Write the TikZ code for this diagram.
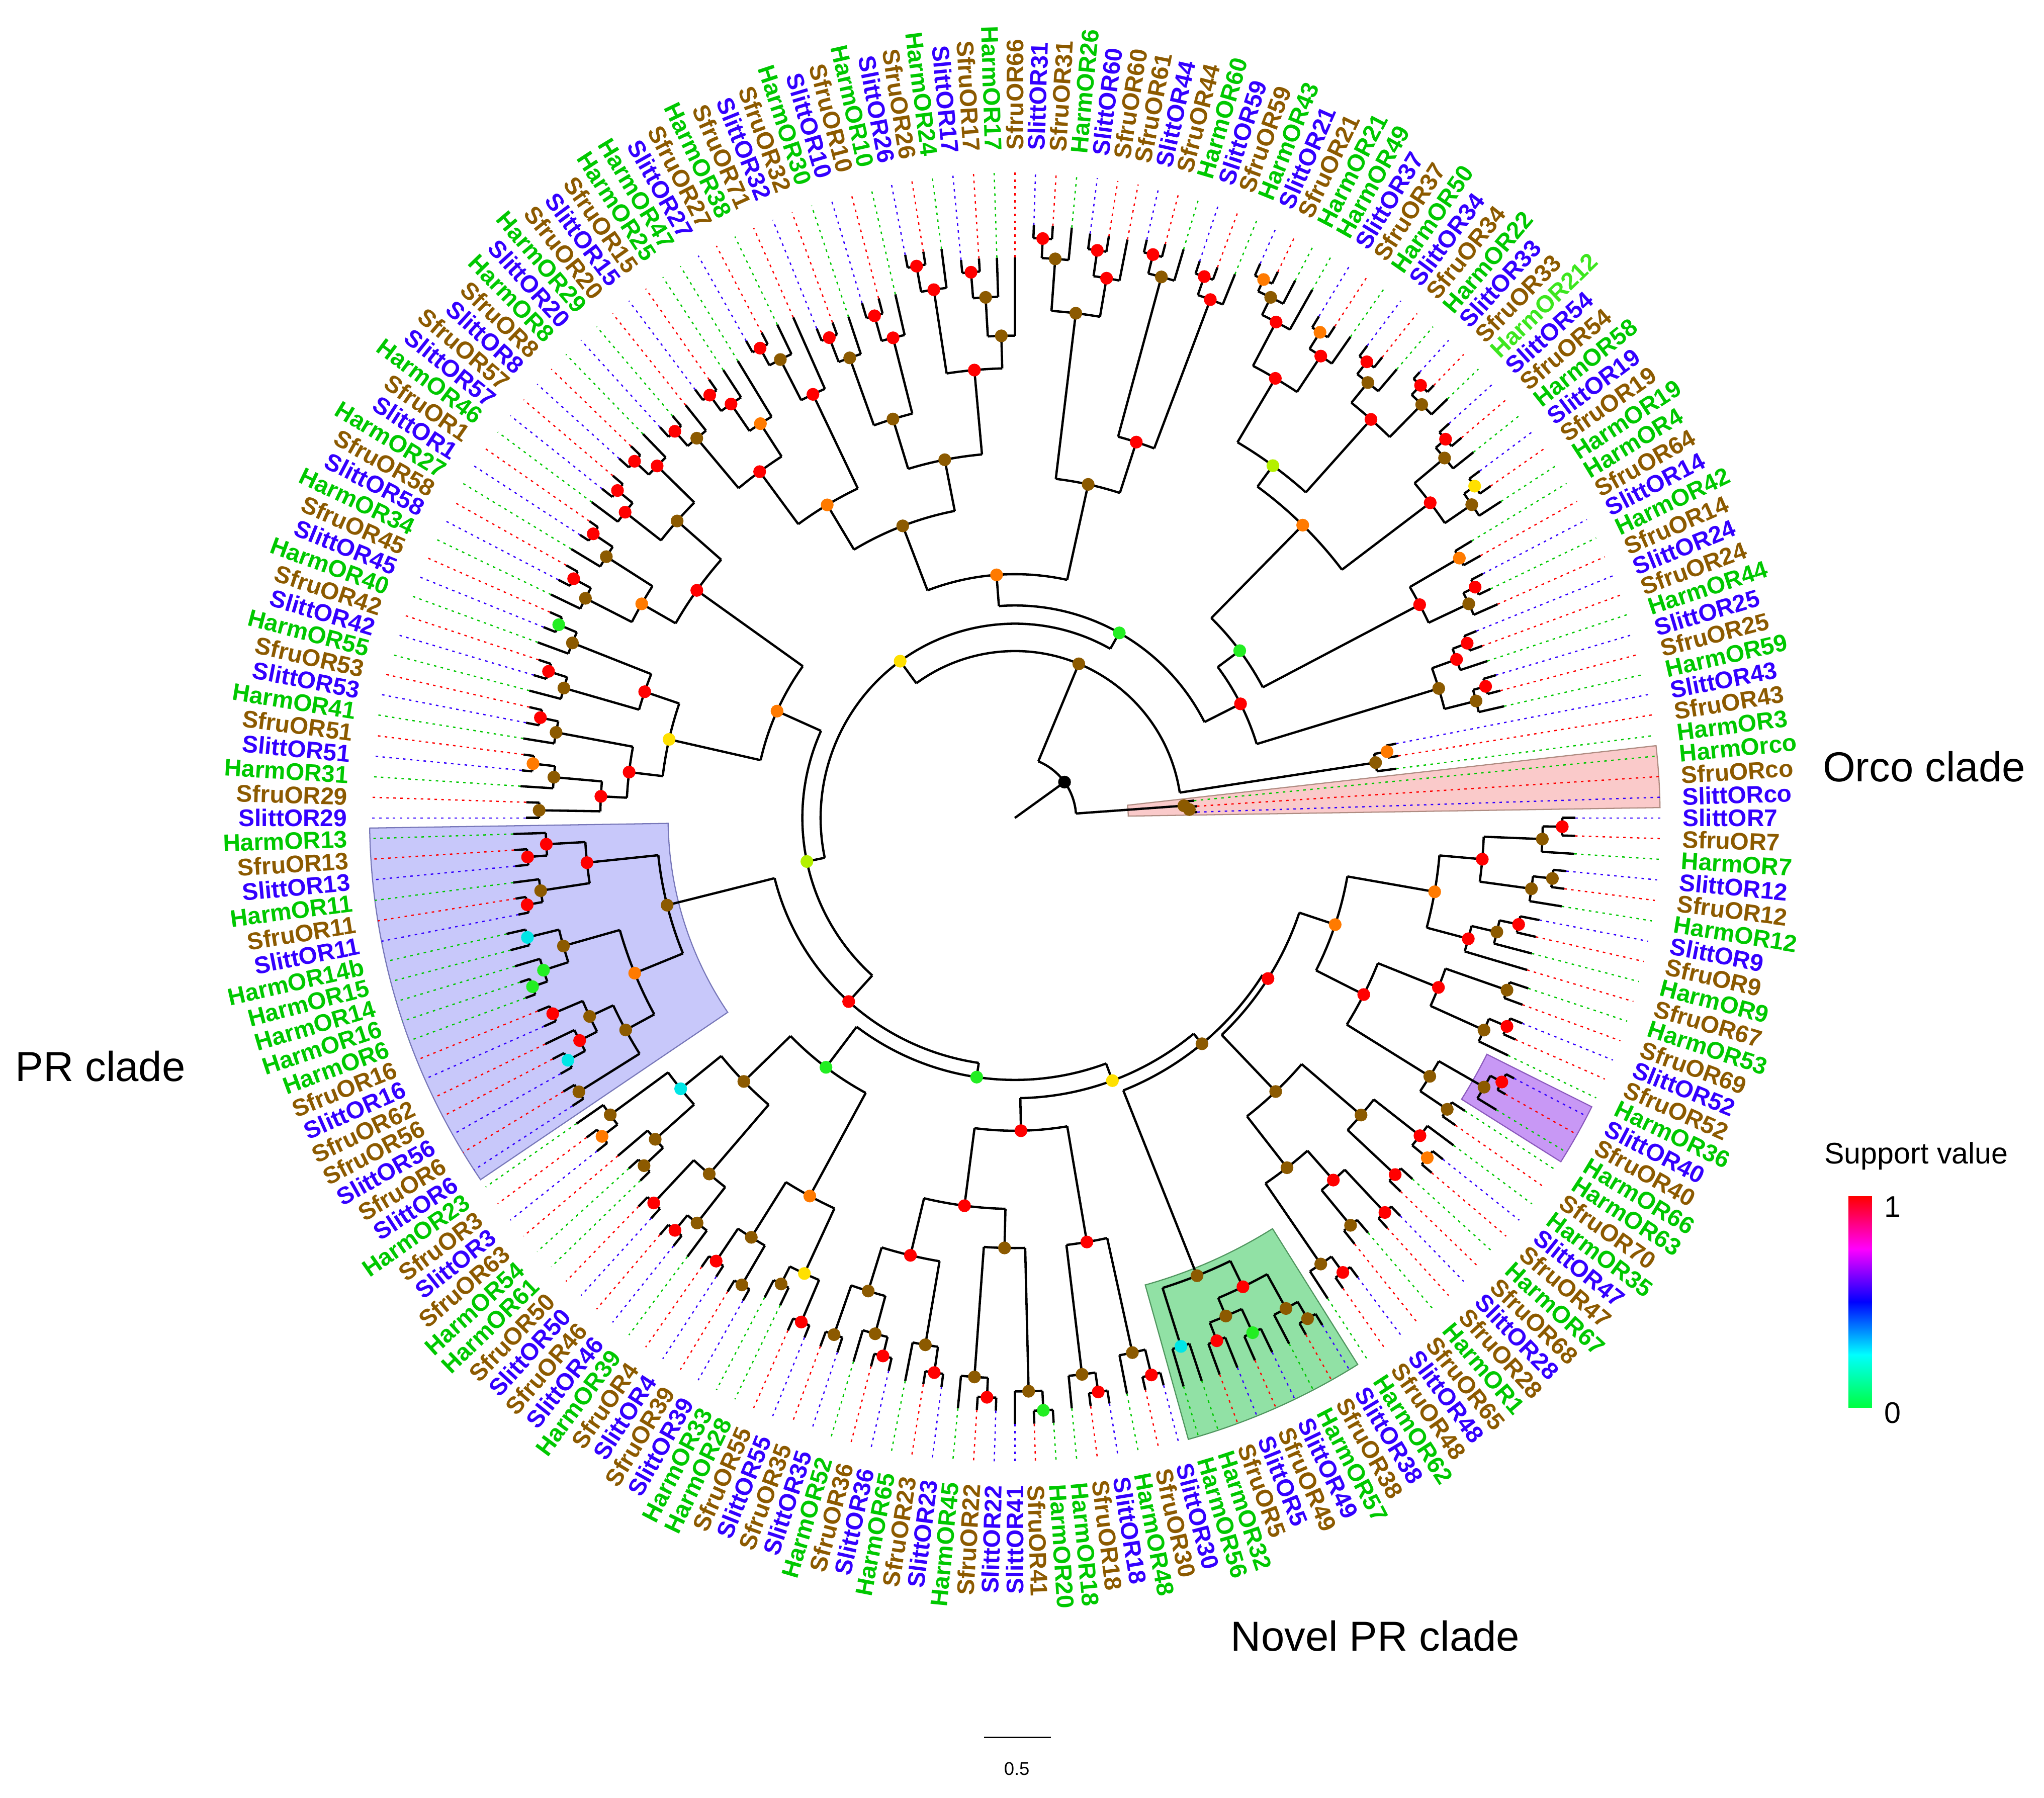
\documentclass[tikz,border=0pt]{standalone}
\usepackage{fontspec}
\setmainfont{Liberation Sans}
\usetikzlibrary{calc}
\definecolor{labH}{HTML}{00C800}
\definecolor{labJ}{HTML}{3CE61E}
\definecolor{labF}{HTML}{8C5A00}
\definecolor{labL}{HTML}{3300FF}
\definecolor{dotH}{HTML}{00C800}
\definecolor{dotJ}{HTML}{00C800}
\definecolor{dotF}{HTML}{FF0000}
\definecolor{dotL}{HTML}{3300FF}
\definecolor{nred}{HTML}{FF0000}
\definecolor{nbrown}{HTML}{8C5A00}
\definecolor{norange}{HTML}{FF7A00}
\definecolor{nyellow}{HTML}{FFE000}
\definecolor{ngreen}{HTML}{22EE22}
\definecolor{nlime}{HTML}{B4F000}
\definecolor{ncyan}{HTML}{00E6E6}
\definecolor{nblack}{HTML}{000000}
\definecolor{boxpink}{RGB}{250,202,202}
\definecolor{boxpinkE}{RGB}{175,140,130}
\definecolor{boxblue}{RGB}{200,200,250}
\definecolor{boxblueE}{RGB}{120,120,185}
\definecolor{boxviolet}{RGB}{200,152,245}
\definecolor{boxvioletE}{RGB}{140,90,190}
\definecolor{boxgreen}{RGB}{145,225,165}
\definecolor{boxgreenE}{RGB}{80,150,95}
\pgfdeclarelayer{fg}
\pgfsetlayers{main,fg}
\def\D{1.8367347}
\tikzset{
  lbl/.style={font=\bfseries\fontsize{10.5}{12}\selectfont, inner sep=0pt},
  dl/.style={line width=0.55pt, dash pattern=on 1.1pt off 1.9pt},
  br/.style={line width=1pt, black},
  cladettl/.style={font=\fontsize{18.3}{22}\selectfont, inner sep=0pt},
  legttl/.style={font=\fontsize{13}{15}\selectfont, inner sep=0pt},
}
% leaf: index, type, text, parent radius, tip radius
\newcommand\myleaf[5]{%
  \pgfmathsetmacro\ang{#1*\D}%
  \pgfmathsetmacro\isleft{(\ang>90 && \ang<270) ? 1 : 0}%
  \ifdim\isleft pt=1pt
    \node[lbl, text=lab#2, anchor=east, rotate=\ang-180] (L#1) at ($(C)+(\ang:512)$) {#3};
  \else
    \node[lbl, text=lab#2, anchor=west, rotate=\ang] (L#1) at ($(C)+(\ang:512)$) {#3};
  \fi
  \draw[br] ($(C)+(\ang:#4)$) -- ($(C)+(\ang:#5)$);
  \draw[dl, draw=dot#2] ($(C)+(\ang:#5)$) -- ($(C)+(\ang:495)$);
}
% internal node: first child idx, last child idx, radius, parent radius, colour
\newcommand\nn[5]{%
  \pgfmathsetmacro\aA{#1*\D}%
  \pgfmathsetmacro\aB{#2*\D}%
  \pgfmathsetmacro\aM{(#1+#2)/2*\D}%
  \draw[br] ($(C)+(\aA:#3)$) arc[start angle=\aA, end angle=\aB, radius=#3];
  \draw[br] ($(C)+(\aM:#4)$) -- ($(C)+(\aM:#3)$);
  \begin{pgfonlayer}{fg}
  \fill[n#5] ($(C)+(\aM:#3)$) circle[radius=4.9];
  \end{pgfonlayer}
}
\newcommand\mysector[6]{%
  \filldraw[fill=#5, draw=#6, line width=0.5pt] ($(C)+(#1:#3)$) -- ($(C)+(#1:#4)$) arc[start angle=#1, end angle=#2, radius=#4] -- ($(C)+(#2:#3)$) arc[start angle=#2, end angle=#1, radius=#3] -- cycle;
}
\begin{document}
\begin{tikzpicture}[x=0.02cm,y=0.02cm]
\useasboundingbox (0,0) rectangle (1568,1379);
\coordinate (C) at (778.5,751.5);
% clade boxes
\mysector{0.92}{6.43}{87}{495}{boxpink}{boxpinkE}
\mysector{180.9}{214.1}{266}{495}{boxblue}{boxblueE}
\mysector{327.8}{333.4}{405}{495}{boxviolet}{boxvioletE}
\mysector{285.6}{302.1}{372}{495}{boxgreen}{boxgreenE}
% ---------- tree: backbone
\nn{2.25}{36.73}{47}{0}{black}
\nn{1}{2}{134}{130}{brown}
\nn{1.5}{3}{130}{47}{brown}
\nn{4.75}{68.71}{128}{47}{brown}
\nn{4}{5.5}{280}{128}{brown}
\nn{5}{6}{290}{280}{orange}
\nn{32.97}{104.44}{149}{128}{yellow}
\nn{14.6}{51.34}{163}{149}{green}
% top-right clade
\nn{9.25}{19.95}{194}{163}{red}
\nn{7.75}{10.75}{340}{194}{brown}
\nn{7}{8.5}{365}{340}{brown}
\nn{8}{9}{375}{365}{red}
\nn{10}{11.5}{360}{340}{red}
\nn{11}{12}{372}{360}{red}
\nn{15.125}{24.77}{215}{194}{green}
\nn{13.75}{16.5}{351}{215}{red}
\nn{13}{14.5}{385}{351}{brown}
\nn{14}{15}{395}{385}{red}
\nn{16}{17}{395}{351}{orange}
\nn{20.25}{29.28}{315}{215}{orange}
\nn{18.75}{21.75}{400}{315}{red}
\nn{18}{19.5}{425}{400}{brown}
\nn{19}{20}{435}{425}{yellow}
\nn{21}{22.5}{430}{400}{brown}
\nn{22}{23}{440}{430}{red}
\nn{26.25}{32.31}{335}{315}{lime}
\nn{24.75}{27.75}{410}{335}{red}
\nn{24}{25.5}{445}{410}{brown}
\nn{25}{26}{455}{445}{red}
\nn{27}{28.5}{430}{410}{brown}
\nn{28}{29}{442}{430}{red}
\nn{30.75}{33.875}{392}{335}{red}
\nn{30}{31.5}{425}{392}{red}
\nn{31}{32}{440}{425}{orange}
\nn{33}{34.75}{430}{392}{red}
\nn{34}{35.5}{445}{430}{brown}
\nn{35}{36}{455}{445}{orange}
% top clade
\nn{42.25}{60.44}{187}{163}{orange}
\nn{39.25}{45.25}{262}{187}{brown}
\nn{37.75}{40.75}{303}{262}{red}
\nn{37}{38.5}{425}{303}{red}
\nn{38}{39}{440}{425}{red}
\nn{40}{41.5}{430}{303}{brown}
\nn{41}{42}{445}{430}{red}
\nn{43.75}{46.75}{390}{262}{brown}
\nn{43}{44.5}{420}{390}{red}
\nn{44}{45}{440}{420}{red}
\nn{46}{47.5}{430}{390}{brown}
\nn{47}{48}{445}{430}{red}
\nn{55.03}{65.84}{240}{187}{brown}
\nn{51.81}{58.25}{280}{240}{brown}
\nn{49.875}{53.75}{345}{280}{red}
\nn{49}{50.75}{370}{345}{brown}
\nn{50}{51.5}{400}{370}{brown}
\nn{51}{52}{420}{400}{red}
\nn{53}{54.5}{410}{345}{red}
\nn{54}{55}{430}{410}{red}
\nn{56.75}{59.75}{320}{280}{brown}
\nn{56}{57.5}{380}{320}{red}
\nn{57}{58}{400}{380}{red}
\nn{59}{60.5}{375}{320}{brown}
\nn{60}{61}{395}{375}{red}
\nn{62.875}{68.81}{280}{240}{orange}
\nn{62}{63.75}{360}{280}{red}
\nn{63}{64.5}{395}{360}{brown}
\nn{64}{65}{410}{395}{red}
\nn{66.875}{70.75}{330}{280}{red}
\nn{66}{67.75}{360}{330}{orange}
\nn{67}{68.5}{385}{360}{red}
\nn{68}{69}{400}{385}{red}
\nn{70}{71.5}{380}{330}{brown}
\nn{71}{72}{395}{380}{red}
% upper-left clade
\nn{84.83}{124.06}{163}{149}{lime}
\nn{78.63}{91.03}{200}{163}{orange}
\nn{75.5}{81.75}{300}{200}{red}
\nn{73.75}{77.25}{345}{300}{brown}
\nn{73}{74.5}{385}{345}{red}
\nn{74}{75}{400}{385}{red}
\nn{76.5}{78}{380}{345}{red}
\nn{76}{77}{395}{380}{red}
\nn{80.25}{83.25}{330}{300}{orange}
\nn{79.5}{81}{372}{330}{brown}
\nn{79}{80}{390}{372}{red}
\nn{82.5}{84}{370}{330}{brown}
\nn{82}{83}{385}{370}{red}
\nn{87.75}{94.31}{272}{200}{yellow}
\nn{86.25}{89.25}{300}{272}{red}
\nn{85.5}{87}{365}{300}{brown}
\nn{85}{86}{380}{365}{green}
\nn{88.5}{90}{360}{300}{brown}
\nn{88}{89}{375}{360}{red}
\nn{92.25}{96.375}{298}{272}{red}
\nn{91.5}{93}{358}{298}{brown}
\nn{91}{92}{372}{358}{red}
\nn{95.25}{97.5}{318}{298}{red}
\nn{94.5}{96}{355}{318}{brown}
\nn{94}{95}{372}{355}{orange}
\nn{97}{98}{365}{318}{brown}
% PR clade
\nn{105.67}{142.44}{190}{163}{red}
\nn{101.25}{110.09}{275}{190}{brown}
\nn{99.75}{102.75}{330}{275}{red}
\nn{99}{100.5}{360}{330}{red}
\nn{100}{101}{375}{360}{red}
\nn{102}{103.5}{368}{330}{brown}
\nn{103}{104}{380}{368}{red}
\nn{106.63}{113.56}{315}{275}{orange}
\nn{105.5}{107.75}{360}{315}{brown}
\nn{105}{106}{385}{360}{cyan}
\nn{107}{108.5}{380}{360}{green}
\nn{108}{109}{392}{380}{green}
\nn{111.63}{115.5}{340}{315}{brown}
\nn{110.5}{112.75}{360}{340}{brown}
\nn{110}{111}{385}{360}{red}
\nn{112}{113.5}{375}{360}{red}
\nn{113}{114}{390}{375}{cyan}
\nn{115}{116}{395}{340}{brown}
% bottom-left clade
\nn{126.78}{158.1}{201}{190}{green}
\nn{122.06}{131.5}{240}{201}{green}
\nn{119.25}{124.88}{290}{240}{brown}
\nn{117.75}{120.75}{330}{290}{cyan}
\nn{117}{118.5}{385}{330}{brown}
\nn{118}{119}{400}{385}{orange}
\nn{120}{121.5}{370}{330}{brown}
\nn{121}{122}{390}{370}{brown}
\nn{123.5}{126.25}{360}{290}{brown}
\nn{123}{124}{405}{360}{red}
\nn{125.5}{127}{395}{360}{brown}
\nn{125}{126}{410}{395}{red}
\nn{129.5}{133.5}{330}{240}{orange}
\nn{128.5}{130.5}{380}{330}{brown}
\nn{128}{129}{410}{380}{red}
\nn{130}{131}{415}{380}{brown}
\nn{132.5}{134.5}{385}{330}{yellow}
\nn{132}{133}{400}{385}{brown}
\nn{134}{135}{420}{385}{red}
% bottom clade
\nn{147.61}{168.58}{215}{201}{yellow}
\nn{142.97}{152.25}{240}{215}{red}
\nn{139.69}{146.25}{300}{240}{red}
\nn{137.63}{141.75}{345}{300}{red}
\nn{136.5}{138.75}{380}{345}{brown}
\nn{136}{137}{420}{380}{brown}
\nn{138}{139.5}{410}{380}{brown}
\nn{139}{140}{425}{410}{red}
\nn{141}{142.5}{410}{345}{brown}
\nn{142}{143}{430}{410}{red}
\nn{144.75}{147.75}{330}{300}{brown}
\nn{144}{145.5}{430}{330}{brown}
\nn{145}{146}{445}{430}{red}
\nn{147}{148.5}{440}{330}{brown}
\nn{148}{149}{455}{440}{green}
\nn{150.75}{153.75}{330}{240}{red}
\nn{150}{151.5}{430}{330}{brown}
\nn{151}{152}{445}{430}{red}
\nn{153}{154.5}{420}{330}{brown}
\nn{154}{155}{440}{420}{red}
% novel PR clade
\nn{158.81}{178.36}{225}{215}{brown}
\nn{156.5}{161.13}{378}{225}{brown}
\nn{156}{157}{425}{378}{cyan}
\nn{159.5}{162.75}{400}{378}{red}
\nn{158.5}{160.5}{415}{400}{brown}
\nn{158}{159}{430}{415}{red}
\nn{160}{161}{435}{415}{green}
\nn{162}{163.5}{430}{400}{brown}
\nn{163}{164}{445}{430}{brown}
% right clade
\nn{170.75}{185.97}{230}{225}{red}
\nn{167.63}{173.88}{290}{230}{brown}
\nn{165.75}{169.5}{340}{290}{brown}
\nn{165}{166.5}{415}{340}{brown}
\nn{166}{167}{430}{415}{red}
\nn{168.5}{170.5}{370}{340}{red}
\nn{168}{169}{405}{370}{brown}
\nn{170}{171}{415}{370}{red}
\nn{172.5}{175.25}{350}{290}{brown}
\nn{172}{173}{400}{350}{red}
\nn{174.5}{176}{395}{350}{red}
\nn{174}{175}{410}{395}{orange}
\nn{181.38}{190.56}{259}{230}{orange}
\nn{178.63}{184.13}{300}{259}{red}
\nn{177.5}{179.75}{375}{300}{brown}
\nn{177}{178}{400}{375}{brown}
\nn{179}{180.5}{415}{375}{brown}
\nn{180}{181}{425}{415}{red}
\nn{182.75}{185.5}{350}{300}{red}
\nn{182}{183.5}{395}{350}{brown}
\nn{183}{184}{410}{395}{red}
\nn{185}{186}{400}{350}{brown}
\nn{187.88}{193.25}{327}{259}{orange}
\nn{187}{188.75}{360}{327}{red}
\nn{188}{189.5}{380}{360}{brown}
\nn{189}{190}{395}{380}{red}
\nn{191.75}{194.75}{360}{327}{red}
\nn{191}{192.5}{400}{360}{brown}
\nn{192}{193}{415}{400}{brown}
\nn{194}{195.5}{405}{360}{brown}
\nn{195}{196}{420}{405}{red}
% ---------- leaves
\myleaf{1}{L}{SlittORco}{134}{140}
\myleaf{2}{F}{SfruORco}{134}{140}
\myleaf{3}{H}{HarmOrco}{130}{138}
\myleaf{4}{H}{HarmOR3}{280}{295}
\myleaf{5}{F}{SfruOR43}{290}{298}
\myleaf{6}{L}{SlittOR43}{290}{298}
\myleaf{7}{H}{HarmOR59}{365}{385}
\myleaf{8}{F}{SfruOR25}{375}{385}
\myleaf{9}{L}{SlittOR25}{375}{385}
\myleaf{10}{H}{HarmOR44}{360}{382}
\myleaf{11}{F}{SfruOR24}{372}{382}
\myleaf{12}{L}{SlittOR24}{372}{382}
\myleaf{13}{F}{SfruOR14}{385}{405}
\myleaf{14}{H}{HarmOR42}{395}{405}
\myleaf{15}{L}{SlittOR14}{395}{405}
\myleaf{16}{F}{SfruOR64}{395}{410}
\myleaf{17}{H}{HarmOR4}{395}{410}
\myleaf{18}{H}{HarmOR19}{425}{445}
\myleaf{19}{F}{SfruOR19}{435}{445}
\myleaf{20}{L}{SlittOR19}{435}{445}
\myleaf{21}{H}{HarmOR58}{430}{450}
\myleaf{22}{F}{SfruOR54}{440}{450}
\myleaf{23}{L}{SlittOR54}{440}{450}
\myleaf{24}{J}{HarmOR212}{445}{462}
\myleaf{25}{F}{SfruOR33}{455}{462}
\myleaf{26}{L}{SlittOR33}{455}{462}
\myleaf{27}{H}{HarmOR22}{430}{452}
\myleaf{28}{F}{SfruOR34}{442}{452}
\myleaf{29}{L}{SlittOR34}{442}{452}
\myleaf{30}{H}{HarmOR50}{425}{450}
\myleaf{31}{F}{SfruOR37}{440}{450}
\myleaf{32}{L}{SlittOR37}{440}{450}
\myleaf{33}{H}{HarmOR49}{430}{465}
\myleaf{34}{H}{HarmOR21}{445}{465}
\myleaf{35}{F}{SfruOR21}{455}{465}
\myleaf{36}{L}{SlittOR21}{455}{465}
\myleaf{37}{H}{HarmOR43}{425}{450}
\myleaf{38}{F}{SfruOR59}{440}{450}
\myleaf{39}{L}{SlittOR59}{440}{450}
\myleaf{40}{H}{HarmOR60}{430}{455}
\myleaf{41}{F}{SfruOR44}{445}{455}
\myleaf{42}{L}{SlittOR44}{445}{455}
\myleaf{43}{F}{SfruOR61}{420}{452}
\myleaf{44}{F}{SfruOR60}{440}{452}
\myleaf{45}{L}{SlittOR60}{440}{452}
\myleaf{46}{H}{HarmOR26}{430}{455}
\myleaf{47}{F}{SfruOR31}{445}{455}
\myleaf{48}{L}{SlittOR31}{445}{455}
\myleaf{49}{F}{SfruOR66}{370}{430}
\myleaf{50}{H}{HarmOR17}{400}{430}
\myleaf{51}{F}{SfruOR17}{420}{430}
\myleaf{52}{L}{SlittOR17}{420}{430}
\myleaf{53}{H}{HarmOR24}{410}{440}
\myleaf{54}{F}{SfruOR26}{430}{440}
\myleaf{55}{L}{SlittOR26}{430}{440}
\myleaf{56}{H}{HarmOR10}{380}{412}
\myleaf{57}{F}{SfruOR10}{400}{412}
\myleaf{58}{L}{SlittOR10}{400}{412}
\myleaf{59}{H}{HarmOR30}{375}{405}
\myleaf{60}{F}{SfruOR32}{395}{405}
\myleaf{61}{L}{SlittOR32}{395}{405}
\myleaf{62}{F}{SfruOR71}{360}{420}
\myleaf{63}{H}{HarmOR38}{395}{420}
\myleaf{64}{F}{SfruOR27}{410}{420}
\myleaf{65}{L}{SlittOR27}{410}{420}
\myleaf{66}{H}{HarmOR47}{360}{410}
\myleaf{67}{H}{HarmOR25}{385}{410}
\myleaf{68}{F}{SfruOR15}{400}{410}
\myleaf{69}{L}{SlittOR15}{400}{410}
\myleaf{70}{F}{SfruOR20}{380}{405}
\myleaf{71}{H}{HarmOR29}{395}{405}
\myleaf{72}{L}{SlittOR20}{395}{405}
\myleaf{73}{H}{HarmOR8}{385}{410}
\myleaf{74}{F}{SfruOR8}{400}{410}
\myleaf{75}{L}{SlittOR8}{400}{410}
\myleaf{76}{F}{SfruOR57}{395}{405}
\myleaf{77}{L}{SlittOR57}{395}{405}
\myleaf{78}{H}{HarmOR46}{380}{405}
\myleaf{79}{F}{SfruOR1}{390}{398}
\myleaf{80}{L}{SlittOR1}{390}{398}
\myleaf{81}{H}{HarmOR27}{372}{398}
\myleaf{82}{F}{SfruOR58}{385}{395}
\myleaf{83}{L}{SlittOR58}{385}{395}
\myleaf{84}{H}{HarmOR34}{370}{395}
\myleaf{85}{F}{SfruOR45}{380}{390}
\myleaf{86}{L}{SlittOR45}{380}{390}
\myleaf{87}{H}{HarmOR40}{365}{390}
\myleaf{88}{F}{SfruOR42}{375}{385}
\myleaf{89}{L}{SlittOR42}{375}{385}
\myleaf{90}{H}{HarmOR55}{360}{385}
\myleaf{91}{F}{SfruOR53}{372}{382}
\myleaf{92}{L}{SlittOR53}{372}{382}
\myleaf{93}{H}{HarmOR41}{358}{382}
\myleaf{94}{F}{SfruOR51}{372}{380}
\myleaf{95}{L}{SlittOR51}{372}{380}
\myleaf{96}{H}{HarmOR31}{355}{380}
\myleaf{97}{F}{SfruOR29}{365}{375}
\myleaf{98}{L}{SlittOR29}{365}{375}
\myleaf{99}{H}{HarmOR13}{360}{385}
\myleaf{100}{F}{SfruOR13}{375}{385}
\myleaf{101}{L}{SlittOR13}{375}{385}
\myleaf{102}{H}{HarmOR11}{368}{388}
\myleaf{103}{F}{SfruOR11}{380}{388}
\myleaf{104}{L}{SlittOR11}{380}{388}
\myleaf{105}{H}{HarmOR14b}{385}{400}
\myleaf{106}{H}{HarmOR15}{385}{400}
\myleaf{107}{H}{HarmOR14}{380}{400}
\myleaf{108}{H}{HarmOR16}{392}{400}
\myleaf{109}{H}{HarmOR6}{392}{400}
\myleaf{110}{F}{SfruOR16}{385}{395}
\myleaf{111}{L}{SlittOR16}{385}{395}
\myleaf{112}{F}{SfruOR62}{375}{400}
\myleaf{113}{F}{SfruOR56}{390}{400}
\myleaf{114}{L}{SlittOR56}{390}{400}
\myleaf{115}{F}{SfruOR6}{395}{405}
\myleaf{116}{L}{SlittOR6}{395}{405}
\myleaf{117}{H}{HarmOR23}{385}{410}
\myleaf{118}{F}{SfruOR3}{400}{410}
\myleaf{119}{L}{SlittOR3}{400}{410}
\myleaf{120}{F}{SfruOR63}{370}{400}
\myleaf{121}{H}{HarmOR54}{390}{400}
\myleaf{122}{H}{HarmOR61}{390}{400}
\myleaf{123}{F}{SfruOR50}{405}{415}
\myleaf{124}{L}{SlittOR50}{405}{415}
\myleaf{125}{F}{SfruOR46}{410}{420}
\myleaf{126}{L}{SlittOR46}{410}{420}
\myleaf{127}{H}{HarmOR39}{395}{420}
\myleaf{128}{F}{SfruOR4}{410}{420}
\myleaf{129}{L}{SlittOR4}{410}{420}
\myleaf{130}{F}{SfruOR39}{415}{425}
\myleaf{131}{L}{SlittOR39}{415}{425}
\myleaf{132}{H}{HarmOR33}{400}{415}
\myleaf{133}{H}{HarmOR28}{400}{415}
\myleaf{134}{F}{SfruOR55}{420}{430}
\myleaf{135}{L}{SlittOR55}{420}{430}
\myleaf{136}{F}{SfruOR35}{420}{432}
\myleaf{137}{L}{SlittOR35}{420}{432}
\myleaf{138}{H}{HarmOR52}{410}{435}
\myleaf{139}{F}{SfruOR36}{425}{435}
\myleaf{140}{L}{SlittOR36}{425}{435}
\myleaf{141}{H}{HarmOR65}{410}{440}
\myleaf{142}{F}{SfruOR23}{430}{440}
\myleaf{143}{L}{SlittOR23}{430}{440}
\myleaf{144}{H}{HarmOR45}{430}{455}
\myleaf{145}{F}{SfruOR22}{445}{455}
\myleaf{146}{L}{SlittOR22}{445}{455}
\myleaf{147}{L}{SlittOR41}{440}{465}
\myleaf{148}{F}{SfruOR41}{455}{465}
\myleaf{149}{H}{HarmOR20}{455}{465}
\myleaf{150}{H}{HarmOR18}{430}{455}
\myleaf{151}{F}{SfruOR18}{445}{455}
\myleaf{152}{L}{SlittOR18}{445}{455}
\myleaf{153}{H}{HarmOR48}{420}{450}
\myleaf{154}{F}{SfruOR30}{440}{450}
\myleaf{155}{L}{SlittOR30}{440}{450}
\myleaf{156}{H}{HarmOR56}{425}{455}
\myleaf{157}{H}{HarmOR32}{425}{455}
\myleaf{158}{F}{SfruOR5}{430}{455}
\myleaf{159}{L}{SlittOR5}{430}{455}
\myleaf{160}{F}{SfruOR49}{435}{455}
\myleaf{161}{L}{SlittOR49}{435}{455}
\myleaf{162}{H}{HarmOR57}{430}{455}
\myleaf{163}{F}{SfruOR38}{445}{455}
\myleaf{164}{L}{SlittOR38}{445}{455}
\myleaf{165}{H}{HarmOR62}{415}{440}
\myleaf{166}{F}{SfruOR48}{430}{440}
\myleaf{167}{L}{SlittOR48}{430}{440}
\myleaf{168}{F}{SfruOR65}{405}{418}
\myleaf{169}{H}{HarmOR1}{405}{418}
\myleaf{170}{F}{SfruOR28}{415}{425}
\myleaf{171}{L}{SlittOR28}{415}{425}
\myleaf{172}{F}{SfruOR68}{400}{412}
\myleaf{173}{H}{HarmOR67}{400}{412}
\myleaf{174}{F}{SfruOR47}{410}{420}
\myleaf{175}{L}{SlittOR47}{410}{420}
\myleaf{176}{H}{HarmOR35}{395}{420}
\myleaf{177}{F}{SfruOR70}{400}{412}
\myleaf{178}{H}{HarmOR63}{400}{412}
\myleaf{179}{H}{HarmOR66}{415}{432}
\myleaf{180}{F}{SfruOR40}{425}{432}
\myleaf{181}{L}{SlittOR40}{425}{432}
\myleaf{182}{H}{HarmOR36}{395}{420}
\myleaf{183}{F}{SfruOR52}{410}{420}
\myleaf{184}{L}{SlittOR52}{410}{420}
\myleaf{185}{F}{SfruOR69}{400}{415}
\myleaf{186}{H}{HarmOR53}{400}{415}
\myleaf{187}{F}{SfruOR67}{360}{410}
\myleaf{188}{H}{HarmOR9}{380}{410}
\myleaf{189}{F}{SfruOR9}{395}{410}
\myleaf{190}{L}{SlittOR9}{395}{410}
\myleaf{191}{H}{HarmOR12}{400}{425}
\myleaf{192}{F}{SfruOR12}{415}{425}
\myleaf{193}{L}{SlittOR12}{415}{425}
\myleaf{194}{H}{HarmOR7}{405}{430}
\myleaf{195}{F}{SfruOR7}{420}{430}
\myleaf{196}{L}{SlittOR7}{420}{430}
% titles
\node[cladettl] (t1) at (1476,791) {Orco clade};
\node[cladettl] (t2) at (77,561) {PR clade};
\node[cladettl] (t3) at (1055,124) {Novel PR clade};
% legend
\node[legttl] (lg) at (1470,492) {Support value};
\shade[bottom color={rgb,255:red,0;green,255;blue,64}, top color=cyan] (1418,299) rectangle (1436,340);
\shade[bottom color=cyan, top color=blue] (1418,339.5) rectangle (1436,380.5);
\shade[bottom color=blue, top color=magenta] (1418,380) rectangle (1436,421);
\shade[bottom color=magenta, top color=red] (1418,420.5) rectangle (1436,461);
\node[legttl] (l1) at (1452,453) {1};
\node[legttl] (l0) at (1452,295) {0};
% scale bar
\coordinate (s1) at (755,46);
\coordinate (s2) at (806,46);
\draw[line width=0.6pt] (s1) -- (s2);
\node[font=\fontsize{8}{9}\selectfont, inner sep=0pt] (sl) at (780,22) {0.5};
\end{tikzpicture}
\end{document}
